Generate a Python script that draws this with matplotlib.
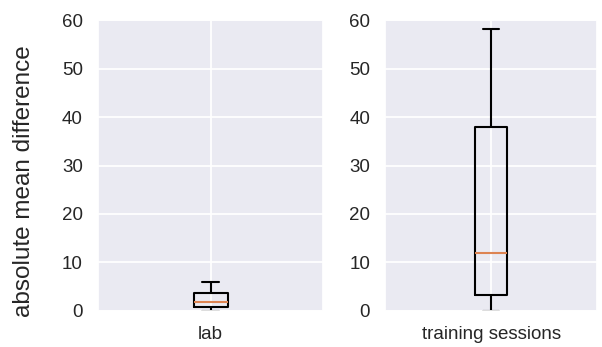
import matplotlib
matplotlib.use('Agg')
import matplotlib.pyplot as plt
import seaborn as sns

sns.set_theme(style='darkgrid')
plt.rcParams['font.family'] = ['Arial', 'Liberation Sans', 'DejaVu Sans']
plt.rcParams['grid.linewidth'] = 1.3

# Summary stats of absolute mean difference per condition
grupos = ['lab', 'training sessions']
minimo = [0.0, 0.0]
q1 = [0.8, 3.2]
mediana = [1.9, 12.0]
q3 = [3.7, 38.0]
maximo = [5.9, 58.2]

fig = plt.figure(figsize=(6.02, 3.47), dpi=100)
ax1 = fig.add_axes([0.163, 0.104, 0.374, 0.838])
ax2 = fig.add_axes([0.640, 0.104, 0.352, 0.838])

linea = {'linewidth': 1.5, 'color': 'black'}

for i, ax in enumerate([ax1, ax2]):
    stats = [{
        'label': grupos[i],
        'whislo': minimo[i],
        'q1': q1[i],
        'med': mediana[i],
        'q3': q3[i],
        'whishi': maximo[i],
        'fliers': [],
    }]
    ax.bxp(stats, showfliers=False, boxprops=linea, whiskerprops=linea,
           capprops=linea, medianprops={'linewidth': 1.5})
    ax.set_ylim(0, 60)
    ax.set_yticks([0, 10, 20, 30, 40, 50, 60])
    ax.tick_params(axis='both', labelsize=13.5, pad=5)

ax1.set_ylabel('absolute mean difference', fontsize=17.5)
ax1.yaxis.set_label_coords(-0.28, 0.447)

plt.savefig('out.png', dpi=100)
